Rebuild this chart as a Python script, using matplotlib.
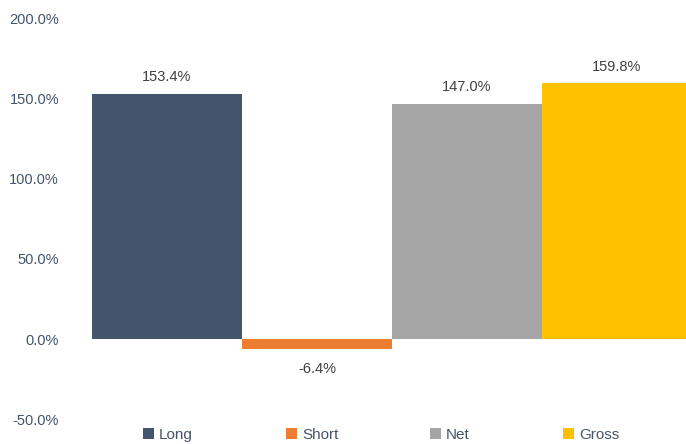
import matplotlib
matplotlib.use("Agg")
import matplotlib.pyplot as plt
from matplotlib import font_manager as fm

categories = ["Long", "Short", "Net", "Gross"]
values = [153.4, -6.4, 147.0, 159.8]
colors = ["#44546A", "#ED7D31", "#A5A5A5", "#FFC000"]
yticks = [-50, 0, 50, 100, 150, 200]

names = {f.name for f in fm.fontManager.ttflist}
fam = "Liberation Sans Narrow" if "Liberation Sans Narrow" in names else "Liberation Sans"
plt.rcParams["font.family"] = [fam, "DejaVu Sans"]
fs = 12.5 if fam == "Liberation Sans Narrow" else 10.5

fig = plt.figure(figsize=(6.86, 4.44), dpi=100)
ax = fig.add_axes([75/686, 25/444, 611/686, 400/444])

x = list(range(len(categories)))
bars = ax.bar(x, values, width=1.0, color=colors)
ax.set_xlim(-0.5 - 17/150, 3.5 - 6/150)
ax.set_ylim(-50, 200)
ax.set_yticks(yticks)
ax.set_yticklabels([f"{t:.1f}%" for t in yticks], fontsize=fs, color="#44546A")
ax.tick_params(axis="y", length=0, pad=11.5)
ax.set_xticks([])
for s in ax.spines.values():
    s.set_visible(False)

for xi, v in zip(x, values):
    if v >= 0:
        ax.annotate(f"{v:.1f}%", (xi, v), xytext=(0, 12), textcoords="offset points",
                    ha="center", va="center", fontsize=fs, color="#404040")
    else:
        ax.annotate(f"{v:.1f}%", (xi, v), xytext=(0, -14), textcoords="offset points",
                    ha="center", va="center", fontsize=fs, color="#404040")

leg_x = [143, 286, 430, 563]
for b, name, lx in zip(bars, categories, leg_x):
    fig.legend(handles=[b], labels=[name], loc="center left",
               bbox_to_anchor=(lx/686, 9/444), frameon=False, fontsize=fs + 0.5,
               handlelength=0.75, handleheight=0.75, handletextpad=0.3,
               borderpad=0, borderaxespad=0, labelcolor="#44546A")

fig.savefig("out.png", dpi=100)
